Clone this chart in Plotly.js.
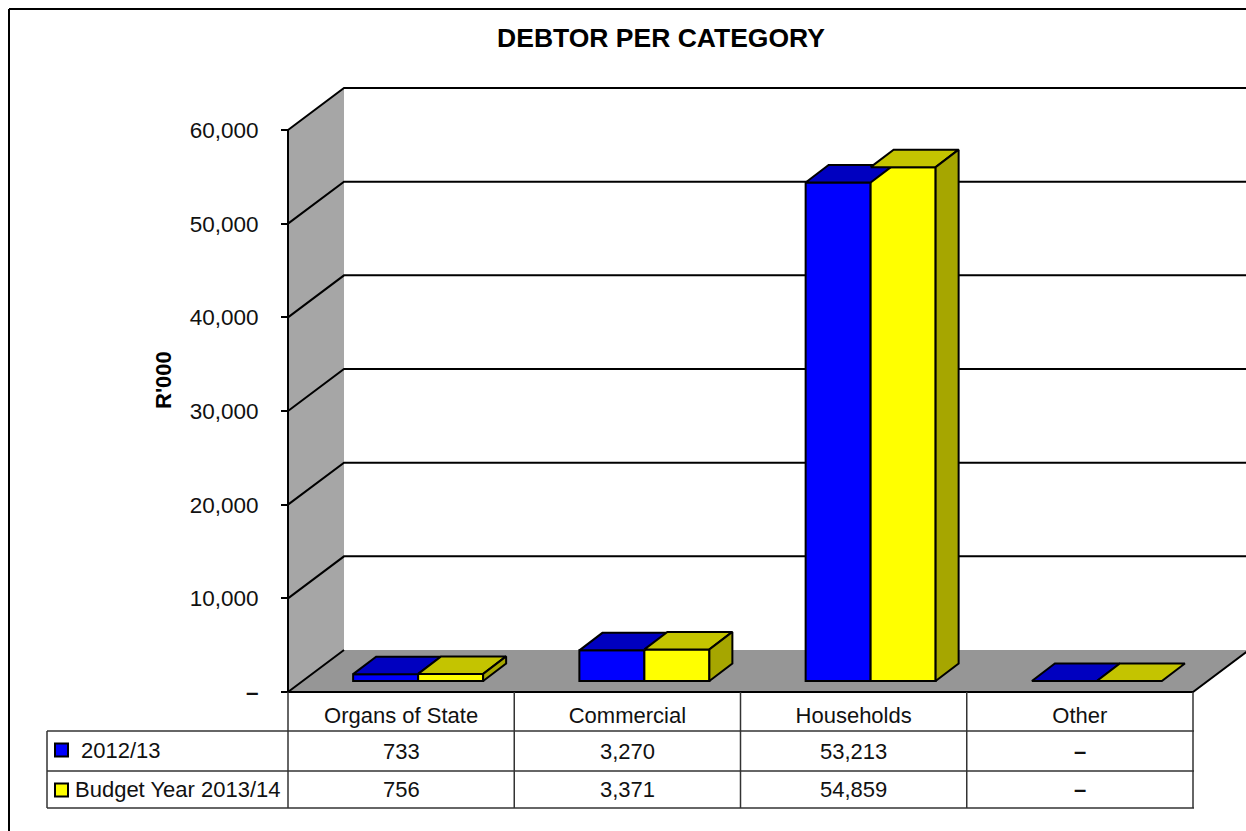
<!DOCTYPE html>
<html><head><meta charset="utf-8">
<script src="https://cdn.plot.ly/plotly-3.0.1.min.js"></script>
<style>html,body{margin:0;padding:0;background:#fff;overflow:hidden}#c{width:1246px;height:831px}</style>
</head><body><div id="c"></div>
<script>
const categories = ['Organs of State','Commercial','Households','Other'];
const series1Name = '2012/13';
const series2Name = 'Budget Year 2013/14';
const series1 = [733,3270,53213,0];
const series2 = [756,3371,54859,0];
const yTickVals = [0,10000,20000,30000,40000,50000,60000];
const yTickText = ['<b>–</b>','10,000','20,000','30,000','40,000','50,000','60,000'];

const W=1246,H=831, FONT='"Liberation Sans",Arial,sans-serif';
const px=x=>x/W, py=y=>1-y/H;
const XL=288,XR=1193,Y0=692,Y60=130;
const ux=(XR-XL)/4, uy=(Y0-Y60)/60000;          // px per data unit
const wallDX=56/ux, wallDY=42/uy;               // depth of the whole box
const shiftX=17/ux, shiftY=11/uy;               // bars stand this far into the box
const barW=65/ux, barDX=23/ux, barDY=17.5/uy;   // bar width and depth
const xRange=[-XL/ux,(W-XL)/ux], yRange=[-(H-Y0)/uy,Y0/uy]; // axes span the page so the 3D box is not clipped

const fmt=v=>v===0?'<b>–</b>':v.toLocaleString('en-US');
const poly=(xs,ys,fill,lw,top,lc)=>({type:'scatter',mode:'lines',x:[...xs,xs[0]],y:[...ys,ys[0]],fill:'toself',fillcolor:fill,
  line:{color:lc||'#000',width:lw},hoverinfo:'skip',showlegend:false,xaxis:top?'x2':'x',yaxis:top?'y2':'y'});
const path=(xs,ys)=>({type:'scatter',mode:'lines',x:xs,y:ys,line:{color:'#000',width:2},hoverinfo:'skip',showlegend:false});

const traces=[];
const xEnd=4+wallDX;
traces.push(poly([wallDX,xEnd,xEnd,wallDX],[wallDY,wallDY,60000+wallDY,60000+wallDY],'#fff',0,false,'rgba(0,0,0,0)'));
traces.push(poly([0,wallDX,wallDX,0],[0,wallDY,60000+wallDY,60000],'#A6A6A6',0,false,'rgba(0,0,0,0)'));
traces.push(poly([0,4,xEnd,wallDX],[0,0,wallDY,wallDY],'#969696',0,false,'rgba(0,0,0,0)'));
yTickVals.forEach(v=>{ if(v>0) traces.push(path([0,wallDX,xEnd],[v,v+wallDY,v+wallDY])); });
traces.push(path([0,0],[0,60000]));
traces.push(path([wallDX,0,4,xEnd],[wallDY,0,0,wallDY]));

// front faces
const center=categories.map((c,k)=>k+0.5+shiftX);
[[series1,'#0000FF',-barW/2,series1Name],[series2,'#FFFF00',barW/2,series2Name]].forEach(([vals,col,off,name])=>{
  traces.push({type:'bar',name,x:center.map(c=>c+off),y:vals,base:vals.map(()=>shiftY),width:barW,
    marker:{color:col,line:{color:'#000',width:2}},showlegend:false,xaxis:'x2',yaxis:'y2',hoverinfo:'skip'});
});
// top and side faces
categories.forEach((c,k)=>{
  const a=center[k]-barW, b=center[k], e=center[k]+barW;
  const t1=series1[k]+shiftY, t2=series2[k]+shiftY, f=(t2-t1)/barDY;
  // top of the first series, minus what the second series' front face hides
  if(f>=1) traces.push(poly([a,b,b,a+barDX],[t1,t1,t1+barDY,t1+barDY],'#0000C0',2,true));
  else traces.push(poly([a,b,b+f*barDX,b+barDX,a+barDX],[t1,t1,t2,t1+barDY,t1+barDY],'#0000C0',2,true));
  traces.push(poly([b,e,e+barDX,b+barDX],[t2,t2,t2+barDY,t2+barDY],'#C4C400',2,true));
  if(series2[k]>0) traces.push(poly([e,e+barDX,e+barDX,e],[shiftY,shiftY+barDY,t2+barDY,t2],'#A6A600',2,true));
});

const shapes=[], annotations=[];
const ln=(x0,y0,x1,y1,c,w)=>shapes.push({type:'line',xref:'paper',yref:'paper',x0,y0:py(y0),x1,y1:py(y1),line:{color:c,width:w}});
ln(px(9),9,1,9,'#000',2);
ln(px(9),9,px(9),H,'#000',2);
const TC='#333';
[731,771,808].forEach(y=>ln(px(47),y,px(1194),y,TC,1.5));
ln(px(47),731,px(47),808,TC,1.5);
[0,1,2,3,4].forEach(k=>{const x=px(XL+k*ux); ln(x,692,x,808,TC,1.5);});
[[750,'#0000FF'],[790,'#FFFF00']].forEach(([y,c])=>shapes.push({type:'rect',xref:'paper',yref:'paper',x0:px(55),x1:px(68),y0:py(y+6.5),y1:py(y-6.5),fillcolor:c,line:{color:'#000',width:2}}));

const TXT={family:FONT,size:22,color:'#111'};
const note=(text,x,y,xanchor,extra)=>annotations.push(Object.assign({text,xref:'paper',yref:'paper',x:px(x),y:py(y),xanchor:xanchor||'center',yanchor:'middle',showarrow:false,font:TXT},extra||{}));
note(series1Name,79,750,'left');
note(series2Name,73,789,'left');
categories.forEach((c,k)=>{
  note(fmt(series1[k]),XL+(k+.5)*ux,751);
  note(fmt(series2[k]),XL+(k+.5)*ux,789);
});
note("R'000",163,380,'center',{textangle:-90,font:{family:FONT,size:22,color:'#000',weight:'bold'}});

const layout={width:W,height:H,margin:{l:0,r:0,t:0,b:0,pad:0},paper_bgcolor:'#fff',plot_bgcolor:'rgba(0,0,0,0)',showlegend:false,barmode:'overlay',
  title:{text:'DEBTOR PER CATEGORY',x:661/W,xanchor:'center',y:py(38),yanchor:'middle',font:{family:FONT,size:26.5,color:'#000',weight:'bold'}},
  xaxis:{domain:[0,1],range:xRange,anchor:'free',position:py(Y0),tickmode:'array',tickvals:categories.map((c,k)=>k+.5),ticktext:categories,showgrid:false,zeroline:false,showline:false,ticks:'',ticklabelstandoff:8,tickfont:TXT,fixedrange:true},
  yaxis:{domain:[0,1],range:yRange,anchor:'free',position:px(XL),tickmode:'array',tickvals:yTickVals,ticktext:yTickText,showgrid:false,zeroline:false,showline:false,ticks:'outside',ticklen:7,tickwidth:1.5,tickcolor:'#000',ticklabelstandoff:18,tickfont:Object.assign({},TXT,{size:22.5}),fixedrange:true},
  xaxis2:{domain:[0,1],range:xRange,overlaying:'x',visible:false,fixedrange:true},
  yaxis2:{domain:[0,1],range:yRange,overlaying:'y',visible:false,fixedrange:true},
  shapes,annotations};
Plotly.newPlot('c',traces,layout,{displayModeBar:false,responsive:false});
</script></body></html>
